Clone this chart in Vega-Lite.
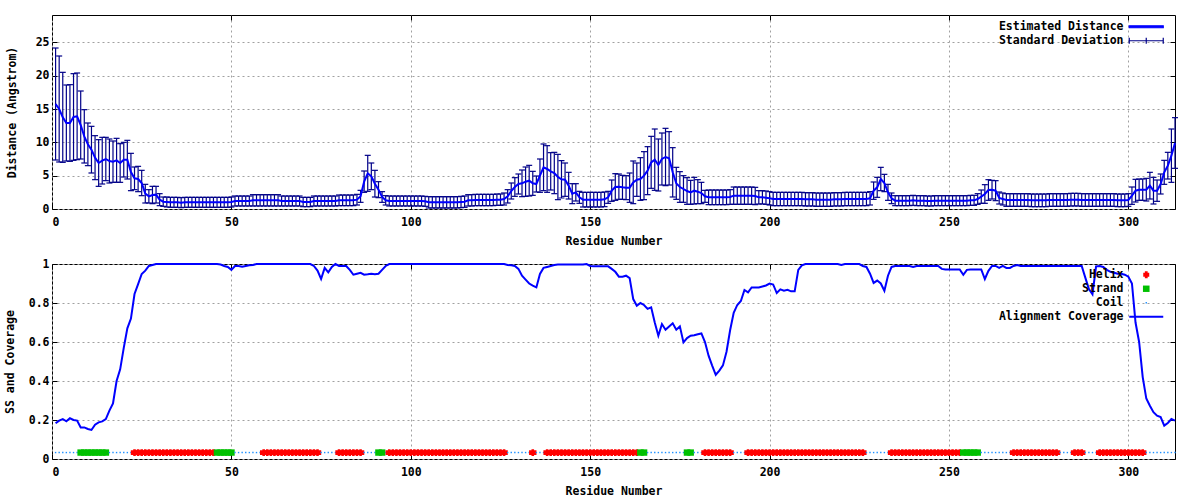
{
"$schema": "https://vega.github.io/schema/vega-lite/v6.json",
"padding": {"left": 3, "top": 14, "right": 0, "bottom": 0},
"background": "white",
"config": {
  "view": {"stroke": "#000", "strokeWidth": 1},
  "axis": {"labelFont": "DejaVu Sans Mono", "labelFontWeight": "bold", "labelFontSize": 11.5, "labelColor": "#000",
    "titleFont": "DejaVu Sans Mono", "titleFontWeight": "bold", "titleFontSize": 11.5, "titleColor": "#000",
    "tickColor": "#000", "tickSize": -5, "tickWidth": 1, "domain": false,
    "gridColor": "#a0a0a0", "gridDash": [2, 3], "gridOpacity": 1, "gridWidth": 1, "labelPadding": 8},
  "axisX": {"titlePadding": 8, "labelPadding": 12},
  "axisY": {"titlePadding": 13},
  "legend": {"labelFont": "DejaVu Sans Mono", "labelFontWeight": "bold", "labelFontSize": 11.5, "labelColor": "#000",
    "symbolSize": 4, "labelAlign": "right", "labelOffset": -28.5, "rowPadding": 1, "padding": 0}
},
"datasets": {"res": [
{"r":1,"d":15.75,"e":8.4,"c":0.183,"ss":"Coil"},
{"r":2,"d":15,"e":7.95,"c":0.197,"ss":"Coil"},
{"r":3,"d":13.75,"e":6.75,"c":0.205,"ss":"Coil"},
{"r":4,"d":12.9,"e":5.7,"c":0.193,"ss":"Coil"},
{"r":5,"d":12.9,"e":5.75,"c":0.209,"ss":"Coil"},
{"r":6,"d":13.8,"e":6.5,"c":0.2,"ss":"Coil"},
{"r":7,"d":13.9,"e":6.5,"c":0.197,"ss":"Coil"},
{"r":8,"d":12.6,"e":5.1,"c":0.162,"ss":"Strand"},
{"r":9,"d":10.9,"e":4,"c":0.162,"ss":"Strand"},
{"r":10,"d":9.7,"e":3.2,"c":0.154,"ss":"Strand"},
{"r":11,"d":8.9,"e":3.5,"c":0.149,"ss":"Strand"},
{"r":12,"d":7.7,"e":3.3,"c":0.176,"ss":"Strand"},
{"r":13,"d":6.9,"e":3.5,"c":0.188,"ss":"Strand"},
{"r":14,"d":7.25,"e":3.5,"c":0.193,"ss":"Strand"},
{"r":15,"d":7.5,"e":3.25,"c":0.205,"ss":"Strand"},
{"r":16,"d":7.2,"e":3.3,"c":0.248,"ss":"Coil"},
{"r":17,"d":7.1,"e":3.1,"c":0.285,"ss":"Coil"},
{"r":18,"d":7.3,"e":3.3,"c":0.4,"ss":"Coil"},
{"r":19,"d":6.9,"e":2.9,"c":0.46,"ss":"Coil"},
{"r":20,"d":7.4,"e":2.6,"c":0.57,"ss":"Coil"},
{"r":21,"d":7.4,"e":2.9,"c":0.67,"ss":"Coil"},
{"r":22,"d":5.55,"e":2.8,"c":0.72,"ss":"Coil"},
{"r":23,"d":4.6,"e":1.7,"c":0.846,"ss":"Helix"},
{"r":24,"d":4.5,"e":1.9,"c":0.897,"ss":"Helix"},
{"r":25,"d":3.9,"e":1.9,"c":0.949,"ss":"Helix"},
{"r":26,"d":2.3,"e":1.4,"c":0.966,"ss":"Helix"},
{"r":27,"d":1.9,"e":1,"c":0.99,"ss":"Helix"},
{"r":28,"d":2.1,"e":1.3,"c":0.995,"ss":"Helix"},
{"r":29,"d":2.15,"e":1.25,"c":1,"ss":"Helix"},
{"r":30,"d":1.4,"e":0.9,"c":1,"ss":"Helix"},
{"r":31,"d":1.1,"e":0.7,"c":1,"ss":"Helix"},
{"r":32,"d":1.05,"e":0.75,"c":1,"ss":"Helix"},
{"r":33,"d":1,"e":0.75,"c":1,"ss":"Helix"},
{"r":34,"d":1,"e":0.75,"c":1,"ss":"Helix"},
{"r":35,"d":1,"e":0.75,"c":1,"ss":"Helix"},
{"r":36,"d":0.95,"e":0.75,"c":1,"ss":"Helix"},
{"r":37,"d":1,"e":0.75,"c":1,"ss":"Helix"},
{"r":38,"d":1,"e":0.75,"c":1,"ss":"Helix"},
{"r":39,"d":1,"e":0.75,"c":1,"ss":"Helix"},
{"r":40,"d":1,"e":0.75,"c":1,"ss":"Helix"},
{"r":41,"d":1,"e":0.75,"c":1,"ss":"Helix"},
{"r":42,"d":1,"e":0.75,"c":1,"ss":"Helix"},
{"r":43,"d":1,"e":0.75,"c":1,"ss":"Helix"},
{"r":44,"d":1,"e":0.75,"c":1,"ss":"Helix"},
{"r":45,"d":1,"e":0.75,"c":1,"ss":"Helix"},
{"r":46,"d":1,"e":0.75,"c":1,"ss":"Strand"},
{"r":47,"d":1,"e":0.75,"c":0.997,"ss":"Strand"},
{"r":48,"d":1,"e":0.75,"c":0.99,"ss":"Strand"},
{"r":49,"d":1,"e":0.75,"c":0.985,"ss":"Strand"},
{"r":50,"d":1.05,"e":0.75,"c":0.97,"ss":"Strand"},
{"r":51,"d":1.2,"e":0.75,"c":0.99,"ss":"Coil"},
{"r":52,"d":1.2,"e":0.75,"c":0.99,"ss":"Coil"},
{"r":53,"d":1.2,"e":0.75,"c":0.986,"ss":"Coil"},
{"r":54,"d":1.2,"e":0.75,"c":0.99,"ss":"Coil"},
{"r":55,"d":1.2,"e":0.75,"c":0.993,"ss":"Coil"},
{"r":56,"d":1.3,"e":0.85,"c":0.995,"ss":"Coil"},
{"r":57,"d":1.3,"e":0.85,"c":1,"ss":"Coil"},
{"r":58,"d":1.3,"e":0.85,"c":1,"ss":"Coil"},
{"r":59,"d":1.3,"e":0.85,"c":1,"ss":"Helix"},
{"r":60,"d":1.3,"e":0.85,"c":1,"ss":"Helix"},
{"r":61,"d":1.3,"e":0.85,"c":1,"ss":"Helix"},
{"r":62,"d":1.3,"e":0.85,"c":1,"ss":"Helix"},
{"r":63,"d":1.3,"e":0.85,"c":1,"ss":"Helix"},
{"r":64,"d":1.2,"e":0.75,"c":1,"ss":"Helix"},
{"r":65,"d":1.2,"e":0.75,"c":1,"ss":"Helix"},
{"r":66,"d":1.2,"e":0.75,"c":1,"ss":"Helix"},
{"r":67,"d":1.2,"e":0.75,"c":1,"ss":"Helix"},
{"r":68,"d":1.2,"e":0.75,"c":1,"ss":"Helix"},
{"r":69,"d":1.2,"e":0.75,"c":1,"ss":"Helix"},
{"r":70,"d":1.05,"e":0.7,"c":1,"ss":"Helix"},
{"r":71,"d":1.05,"e":0.7,"c":1,"ss":"Helix"},
{"r":72,"d":1.05,"e":0.7,"c":1,"ss":"Helix"},
{"r":73,"d":1.2,"e":0.75,"c":0.99,"ss":"Helix"},
{"r":74,"d":1.2,"e":0.75,"c":0.966,"ss":"Helix"},
{"r":75,"d":1.2,"e":0.75,"c":0.923,"ss":"Coil"},
{"r":76,"d":1.2,"e":0.75,"c":0.98,"ss":"Coil"},
{"r":77,"d":1.2,"e":0.75,"c":0.957,"ss":"Coil"},
{"r":78,"d":1.2,"e":0.75,"c":0.985,"ss":"Coil"},
{"r":79,"d":1.2,"e":0.75,"c":1,"ss":"Coil"},
{"r":80,"d":1.3,"e":0.8,"c":0.99,"ss":"Helix"},
{"r":81,"d":1.3,"e":0.8,"c":0.99,"ss":"Helix"},
{"r":82,"d":1.3,"e":0.8,"c":0.99,"ss":"Helix"},
{"r":83,"d":1.3,"e":0.8,"c":0.97,"ss":"Helix"},
{"r":84,"d":1.3,"e":0.8,"c":0.945,"ss":"Helix"},
{"r":85,"d":1.4,"e":0.8,"c":0.95,"ss":"Helix"},
{"r":86,"d":1.9,"e":0.9,"c":0.955,"ss":"Helix"},
{"r":87,"d":4.1,"e":1.6,"c":0.945,"ss":"Coil"},
{"r":88,"d":5.35,"e":2.7,"c":0.947,"ss":"Coil"},
{"r":89,"d":4.9,"e":2,"c":0.95,"ss":"Coil"},
{"r":90,"d":3.8,"e":2,"c":0.948,"ss":"Coil"},
{"r":91,"d":2.9,"e":1.2,"c":0.95,"ss":"Strand"},
{"r":92,"d":1.8,"e":0.8,"c":0.97,"ss":"Strand"},
{"r":93,"d":1.3,"e":0.7,"c":0.99,"ss":"Coil"},
{"r":94,"d":1.2,"e":0.75,"c":1,"ss":"Helix"},
{"r":95,"d":1.2,"e":0.75,"c":1,"ss":"Helix"},
{"r":96,"d":1.2,"e":0.75,"c":1,"ss":"Helix"},
{"r":97,"d":1.2,"e":0.75,"c":1,"ss":"Helix"},
{"r":98,"d":1.2,"e":0.75,"c":1,"ss":"Helix"},
{"r":99,"d":1.2,"e":0.75,"c":1,"ss":"Helix"},
{"r":100,"d":1.2,"e":0.75,"c":1,"ss":"Helix"},
{"r":101,"d":1.2,"e":0.75,"c":1,"ss":"Helix"},
{"r":102,"d":1.2,"e":0.75,"c":1,"ss":"Helix"},
{"r":103,"d":1.2,"e":0.75,"c":1,"ss":"Helix"},
{"r":104,"d":1.15,"e":0.75,"c":1,"ss":"Helix"},
{"r":105,"d":1,"e":0.85,"c":1,"ss":"Helix"},
{"r":106,"d":1,"e":0.85,"c":1,"ss":"Helix"},
{"r":107,"d":1,"e":0.85,"c":1,"ss":"Helix"},
{"r":108,"d":1,"e":0.85,"c":1,"ss":"Helix"},
{"r":109,"d":1,"e":0.85,"c":1,"ss":"Helix"},
{"r":110,"d":1,"e":0.85,"c":1,"ss":"Helix"},
{"r":111,"d":1,"e":0.85,"c":1,"ss":"Helix"},
{"r":112,"d":1,"e":0.85,"c":1,"ss":"Helix"},
{"r":113,"d":1,"e":0.85,"c":1,"ss":"Helix"},
{"r":114,"d":1.05,"e":0.85,"c":1,"ss":"Helix"},
{"r":115,"d":1.1,"e":0.85,"c":1,"ss":"Helix"},
{"r":116,"d":1.3,"e":0.85,"c":1,"ss":"Helix"},
{"r":117,"d":1.3,"e":0.85,"c":1,"ss":"Helix"},
{"r":118,"d":1.35,"e":0.85,"c":1,"ss":"Helix"},
{"r":119,"d":1.35,"e":0.85,"c":1,"ss":"Helix"},
{"r":120,"d":1.35,"e":0.85,"c":1,"ss":"Helix"},
{"r":121,"d":1.35,"e":0.85,"c":1,"ss":"Helix"},
{"r":122,"d":1.35,"e":0.85,"c":1,"ss":"Helix"},
{"r":123,"d":1.35,"e":0.85,"c":1,"ss":"Helix"},
{"r":124,"d":1.4,"e":0.85,"c":1,"ss":"Helix"},
{"r":125,"d":1.4,"e":0.85,"c":1,"ss":"Helix"},
{"r":126,"d":1.5,"e":0.9,"c":1,"ss":"Helix"},
{"r":127,"d":1.9,"e":1,"c":0.995,"ss":"Coil"},
{"r":128,"d":2.7,"e":1.2,"c":0.993,"ss":"Coil"},
{"r":129,"d":3.3,"e":1.4,"c":0.99,"ss":"Coil"},
{"r":130,"d":3.75,"e":1.5,"c":0.975,"ss":"Coil"},
{"r":131,"d":3.85,"e":2,"c":0.94,"ss":"Coil"},
{"r":132,"d":4.1,"e":2.2,"c":0.92,"ss":"Coil"},
{"r":133,"d":4.25,"e":2.3,"c":0.9,"ss":"Coil"},
{"r":134,"d":3.85,"e":1.8,"c":0.889,"ss":"Helix"},
{"r":135,"d":3.75,"e":1.2,"c":0.88,"ss":"Coil"},
{"r":136,"d":5,"e":2.5,"c":0.949,"ss":"Coil"},
{"r":137,"d":6.25,"e":3.5,"c":0.98,"ss":"Coil"},
{"r":138,"d":6,"e":3.5,"c":0.985,"ss":"Helix"},
{"r":139,"d":5.65,"e":2.8,"c":0.99,"ss":"Helix"},
{"r":140,"d":5.4,"e":3.1,"c":0.995,"ss":"Helix"},
{"r":141,"d":4.8,"e":3.4,"c":0.997,"ss":"Helix"},
{"r":142,"d":4.45,"e":2.8,"c":0.997,"ss":"Helix"},
{"r":143,"d":4.4,"e":2.5,"c":0.997,"ss":"Helix"},
{"r":144,"d":3.5,"e":2,"c":0.997,"ss":"Helix"},
{"r":145,"d":2.3,"e":1.5,"c":0.997,"ss":"Helix"},
{"r":146,"d":2.5,"e":1.3,"c":0.997,"ss":"Helix"},
{"r":147,"d":1.75,"e":0.9,"c":0.997,"ss":"Helix"},
{"r":148,"d":1.4,"e":1.1,"c":0.997,"ss":"Helix"},
{"r":149,"d":1.4,"e":1.1,"c":1,"ss":"Helix"},
{"r":150,"d":1.4,"e":1.1,"c":0.99,"ss":"Helix"},
{"r":151,"d":1.4,"e":1.1,"c":0.988,"ss":"Helix"},
{"r":152,"d":1.4,"e":1.1,"c":0.988,"ss":"Helix"},
{"r":153,"d":1.4,"e":1.1,"c":0.988,"ss":"Helix"},
{"r":154,"d":1.45,"e":1.1,"c":0.988,"ss":"Helix"},
{"r":155,"d":1.75,"e":0.9,"c":0.988,"ss":"Helix"},
{"r":156,"d":2.75,"e":1.6,"c":0.975,"ss":"Helix"},
{"r":157,"d":3.3,"e":2,"c":0.96,"ss":"Helix"},
{"r":158,"d":3.35,"e":1.9,"c":0.935,"ss":"Helix"},
{"r":159,"d":3.25,"e":1.8,"c":0.935,"ss":"Helix"},
{"r":160,"d":3.2,"e":1.8,"c":0.94,"ss":"Helix"},
{"r":161,"d":3.2,"e":2.2,"c":0.928,"ss":"Helix"},
{"r":162,"d":4,"e":3.2,"c":0.82,"ss":"Helix"},
{"r":163,"d":4.4,"e":2.5,"c":0.786,"ss":"Helix"},
{"r":164,"d":4.5,"e":3.2,"c":0.8,"ss":"Strand"},
{"r":165,"d":5,"e":3.6,"c":0.79,"ss":"Strand"},
{"r":166,"d":5.75,"e":3.6,"c":0.77,"ss":"Coil"},
{"r":167,"d":7,"e":3.9,"c":0.778,"ss":"Coil"},
{"r":168,"d":7.4,"e":4.6,"c":0.7,"ss":"Coil"},
{"r":169,"d":6.6,"e":3.9,"c":0.632,"ss":"Coil"},
{"r":170,"d":7.5,"e":3.9,"c":0.692,"ss":"Coil"},
{"r":171,"d":7.8,"e":4.3,"c":0.663,"ss":"Coil"},
{"r":172,"d":7.6,"e":4,"c":0.68,"ss":"Coil"},
{"r":173,"d":5.5,"e":3.7,"c":0.696,"ss":"Coil"},
{"r":174,"d":3.85,"e":2.4,"c":0.663,"ss":"Coil"},
{"r":175,"d":3.3,"e":2.3,"c":0.68,"ss":"Coil"},
{"r":176,"d":3,"e":2,"c":0.598,"ss":"Coil"},
{"r":177,"d":2.7,"e":2,"c":0.62,"ss":"Strand"},
{"r":178,"d":2.5,"e":1.8,"c":0.632,"ss":"Strand"},
{"r":179,"d":2.75,"e":2,"c":0.635,"ss":"Coil"},
{"r":180,"d":2.6,"e":1.8,"c":0.64,"ss":"Coil"},
{"r":181,"d":2.4,"e":1.6,"c":0.644,"ss":"Coil"},
{"r":182,"d":1.9,"e":0.9,"c":0.6,"ss":"Helix"},
{"r":183,"d":1.75,"e":1.1,"c":0.53,"ss":"Helix"},
{"r":184,"d":1.75,"e":1.1,"c":0.479,"ss":"Helix"},
{"r":185,"d":1.75,"e":1.1,"c":0.432,"ss":"Helix"},
{"r":186,"d":1.75,"e":1.1,"c":0.453,"ss":"Helix"},
{"r":187,"d":1.75,"e":1.1,"c":0.48,"ss":"Helix"},
{"r":188,"d":1.75,"e":1.1,"c":0.55,"ss":"Helix"},
{"r":189,"d":1.8,"e":1.1,"c":0.66,"ss":"Helix"},
{"r":190,"d":2,"e":1.3,"c":0.75,"ss":"Coil"},
{"r":191,"d":2,"e":1.3,"c":0.79,"ss":"Coil"},
{"r":192,"d":2,"e":1.3,"c":0.81,"ss":"Coil"},
{"r":193,"d":2,"e":1.3,"c":0.867,"ss":"Coil"},
{"r":194,"d":2,"e":1.3,"c":0.855,"ss":"Helix"},
{"r":195,"d":2,"e":1.3,"c":0.88,"ss":"Helix"},
{"r":196,"d":1.95,"e":1.3,"c":0.88,"ss":"Helix"},
{"r":197,"d":1.75,"e":1,"c":0.88,"ss":"Helix"},
{"r":198,"d":1.75,"e":1,"c":0.885,"ss":"Helix"},
{"r":199,"d":1.7,"e":1,"c":0.89,"ss":"Helix"},
{"r":200,"d":1.6,"e":1,"c":0.9,"ss":"Helix"},
{"r":201,"d":1.5,"e":1,"c":0.895,"ss":"Helix"},
{"r":202,"d":1.5,"e":1,"c":0.851,"ss":"Helix"},
{"r":203,"d":1.5,"e":1,"c":0.87,"ss":"Helix"},
{"r":204,"d":1.5,"e":1,"c":0.863,"ss":"Helix"},
{"r":205,"d":1.5,"e":1,"c":0.868,"ss":"Helix"},
{"r":206,"d":1.5,"e":1,"c":0.86,"ss":"Helix"},
{"r":207,"d":1.5,"e":1,"c":0.86,"ss":"Helix"},
{"r":208,"d":1.5,"e":1,"c":0.97,"ss":"Helix"},
{"r":209,"d":1.5,"e":1,"c":0.993,"ss":"Helix"},
{"r":210,"d":1.45,"e":1,"c":1,"ss":"Helix"},
{"r":211,"d":1.45,"e":1,"c":1,"ss":"Helix"},
{"r":212,"d":1.45,"e":1,"c":1,"ss":"Helix"},
{"r":213,"d":1.4,"e":1,"c":1,"ss":"Helix"},
{"r":214,"d":1.4,"e":1,"c":1,"ss":"Helix"},
{"r":215,"d":1.4,"e":1,"c":1,"ss":"Helix"},
{"r":216,"d":1.4,"e":1,"c":1,"ss":"Helix"},
{"r":217,"d":1.4,"e":1,"c":1,"ss":"Helix"},
{"r":218,"d":1.45,"e":1,"c":1,"ss":"Helix"},
{"r":219,"d":1.45,"e":1,"c":1,"ss":"Helix"},
{"r":220,"d":1.45,"e":1,"c":0.995,"ss":"Helix"},
{"r":221,"d":1.5,"e":1,"c":1,"ss":"Helix"},
{"r":222,"d":1.5,"e":1,"c":1,"ss":"Helix"},
{"r":223,"d":1.5,"e":1,"c":1,"ss":"Helix"},
{"r":224,"d":1.5,"e":1,"c":1,"ss":"Helix"},
{"r":225,"d":1.5,"e":1,"c":1,"ss":"Helix"},
{"r":226,"d":1.5,"e":1,"c":0.99,"ss":"Helix"},
{"r":227,"d":1.5,"e":1,"c":0.985,"ss":"Coil"},
{"r":228,"d":1.6,"e":1,"c":0.95,"ss":"Coil"},
{"r":229,"d":2.75,"e":1.3,"c":0.903,"ss":"Coil"},
{"r":230,"d":3.25,"e":1.5,"c":0.915,"ss":"Coil"},
{"r":231,"d":4.5,"e":1.75,"c":0.9,"ss":"Coil"},
{"r":232,"d":3.9,"e":1.3,"c":0.863,"ss":"Coil"},
{"r":233,"d":2.5,"e":1.2,"c":0.94,"ss":"Coil"},
{"r":234,"d":1.6,"e":0.8,"c":0.985,"ss":"Helix"},
{"r":235,"d":1.25,"e":0.75,"c":0.99,"ss":"Helix"},
{"r":236,"d":1.25,"e":0.75,"c":0.99,"ss":"Helix"},
{"r":237,"d":1.25,"e":0.75,"c":0.99,"ss":"Helix"},
{"r":238,"d":1.25,"e":0.75,"c":0.99,"ss":"Helix"},
{"r":239,"d":1.25,"e":0.75,"c":0.99,"ss":"Helix"},
{"r":240,"d":1.3,"e":0.75,"c":0.985,"ss":"Helix"},
{"r":241,"d":1.25,"e":0.75,"c":0.99,"ss":"Helix"},
{"r":242,"d":1.25,"e":0.75,"c":0.99,"ss":"Helix"},
{"r":243,"d":1.25,"e":0.75,"c":0.99,"ss":"Helix"},
{"r":244,"d":1.2,"e":0.75,"c":0.99,"ss":"Helix"},
{"r":245,"d":1.2,"e":0.75,"c":0.99,"ss":"Helix"},
{"r":246,"d":1.25,"e":0.75,"c":0.99,"ss":"Helix"},
{"r":247,"d":1.25,"e":0.75,"c":0.99,"ss":"Helix"},
{"r":248,"d":1.25,"e":0.75,"c":0.975,"ss":"Helix"},
{"r":249,"d":1.25,"e":0.75,"c":0.972,"ss":"Helix"},
{"r":250,"d":1.25,"e":0.75,"c":0.972,"ss":"Helix"},
{"r":251,"d":1.25,"e":0.75,"c":0.972,"ss":"Helix"},
{"r":252,"d":1.25,"e":0.75,"c":0.972,"ss":"Helix"},
{"r":253,"d":1.25,"e":0.75,"c":0.972,"ss":"Helix"},
{"r":254,"d":1.25,"e":0.75,"c":0.945,"ss":"Strand"},
{"r":255,"d":1.25,"e":0.75,"c":0.97,"ss":"Strand"},
{"r":256,"d":1.3,"e":0.75,"c":0.972,"ss":"Strand"},
{"r":257,"d":1.3,"e":0.75,"c":0.972,"ss":"Strand"},
{"r":258,"d":1.5,"e":0.8,"c":0.972,"ss":"Strand"},
{"r":259,"d":1.85,"e":1,"c":0.972,"ss":"Coil"},
{"r":260,"d":2.25,"e":1.4,"c":0.923,"ss":"Coil"},
{"r":261,"d":2.85,"e":1.55,"c":0.965,"ss":"Coil"},
{"r":262,"d":2.9,"e":1.4,"c":0.99,"ss":"Coil"},
{"r":263,"d":2.75,"e":1.5,"c":0.99,"ss":"Coil"},
{"r":264,"d":1.65,"e":0.9,"c":0.98,"ss":"Coil"},
{"r":265,"d":1.5,"e":0.9,"c":0.99,"ss":"Coil"},
{"r":266,"d":1.35,"e":0.95,"c":0.98,"ss":"Coil"},
{"r":267,"d":1.35,"e":0.95,"c":0.98,"ss":"Coil"},
{"r":268,"d":1.35,"e":0.95,"c":0.99,"ss":"Helix"},
{"r":269,"d":1.35,"e":0.95,"c":0.995,"ss":"Helix"},
{"r":270,"d":1.35,"e":0.95,"c":0.99,"ss":"Helix"},
{"r":271,"d":1.35,"e":0.95,"c":0.99,"ss":"Helix"},
{"r":272,"d":1.35,"e":0.95,"c":0.99,"ss":"Helix"},
{"r":273,"d":1.3,"e":0.95,"c":0.99,"ss":"Helix"},
{"r":274,"d":1.3,"e":0.95,"c":0.99,"ss":"Helix"},
{"r":275,"d":1.3,"e":0.95,"c":0.99,"ss":"Helix"},
{"r":276,"d":1.3,"e":0.95,"c":0.99,"ss":"Helix"},
{"r":277,"d":1.3,"e":0.95,"c":0.99,"ss":"Helix"},
{"r":278,"d":1.35,"e":0.95,"c":0.99,"ss":"Helix"},
{"r":279,"d":1.35,"e":0.95,"c":0.99,"ss":"Helix"},
{"r":280,"d":1.35,"e":0.95,"c":0.99,"ss":"Helix"},
{"r":281,"d":1.35,"e":0.95,"c":0.99,"ss":"Coil"},
{"r":282,"d":1.35,"e":0.95,"c":0.99,"ss":"Coil"},
{"r":283,"d":1.35,"e":0.95,"c":0.99,"ss":"Coil"},
{"r":284,"d":1.4,"e":0.95,"c":0.99,"ss":"Coil"},
{"r":285,"d":1.4,"e":0.95,"c":0.99,"ss":"Helix"},
{"r":286,"d":1.4,"e":0.95,"c":0.99,"ss":"Helix"},
{"r":287,"d":1.35,"e":0.95,"c":0.99,"ss":"Helix"},
{"r":288,"d":1.35,"e":0.95,"c":0.93,"ss":"Coil"},
{"r":289,"d":1.35,"e":0.95,"c":0.872,"ss":"Coil"},
{"r":290,"d":1.35,"e":0.95,"c":0.845,"ss":"Coil"},
{"r":291,"d":1.35,"e":0.95,"c":0.988,"ss":"Coil"},
{"r":292,"d":1.35,"e":0.95,"c":0.99,"ss":"Helix"},
{"r":293,"d":1.35,"e":0.95,"c":0.985,"ss":"Helix"},
{"r":294,"d":1.35,"e":0.95,"c":0.97,"ss":"Helix"},
{"r":295,"d":1.35,"e":0.95,"c":0.96,"ss":"Helix"},
{"r":296,"d":1.35,"e":0.95,"c":0.955,"ss":"Helix"},
{"r":297,"d":1.3,"e":0.95,"c":0.95,"ss":"Helix"},
{"r":298,"d":1.3,"e":0.95,"c":0.95,"ss":"Helix"},
{"r":299,"d":1.3,"e":0.95,"c":0.945,"ss":"Helix"},
{"r":300,"d":1.35,"e":0.95,"c":0.935,"ss":"Helix"},
{"r":301,"d":2,"e":1.3,"c":0.9,"ss":"Helix"},
{"r":302,"d":2.75,"e":1.7,"c":0.7,"ss":"Helix"},
{"r":303,"d":2.9,"e":1.6,"c":0.6,"ss":"Helix"},
{"r":304,"d":2.9,"e":1.6,"c":0.42,"ss":"Helix"},
{"r":305,"d":2.9,"e":1.7,"c":0.31,"ss":"Coil"},
{"r":306,"d":3.5,"e":2,"c":0.273,"ss":"Coil"},
{"r":307,"d":2.75,"e":2,"c":0.24,"ss":"Coil"},
{"r":308,"d":2.75,"e":1.6,"c":0.222,"ss":"Coil"},
{"r":309,"d":3.75,"e":1.5,"c":0.215,"ss":"Coil"},
{"r":310,"d":5.5,"e":1.8,"c":0.171,"ss":"Coil"},
{"r":311,"d":6.5,"e":2,"c":0.185,"ss":"Coil"},
{"r":312,"d":8,"e":4,"c":0.205,"ss":"Coil"},
{"r":313,"d":9.9,"e":3.8,"c":0.197,"ss":"Coil"}
]},
"concat": [
  {
    "width": 1123, "height": 194,
    "data": {"name": "res"},
    "resolve": {"axis": {"x": "independent", "y": "independent"}},
    "layer": [
      {
        "mark": {"type": "errorbar", "ticks": true, "size": 6, "thickness": 1.2, "opacity": 1},
        "encoding": {
          "x": {"field": "r", "type": "quantitative", "scale": {"domain": [0, 313], "nice": false, "zero": false},
            "axis": {"orient": "top", "labels": false, "grid": false, "title": null, "values": [0, 50, 100, 150, 200, 250, 300]}},
          "y": {"field": "d", "type": "quantitative", "scale": {"domain": [0, 29.1], "nice": false},
            "axis": {"orient": "right", "labels": false, "grid": false, "title": null, "values": [0, 5, 10, 15, 20, 25]}},
          "yError": {"field": "e"},
          "color": {"datum": "Standard Deviation"}
        }
      },
      {
        "mark": {"type": "line", "strokeWidth": 2},
        "encoding": {
          "x": {"field": "r", "type": "quantitative",
            "axis": {"orient": "bottom", "title": "Residue Number", "grid": true, "values": [0, 50, 100, 150, 200, 250, 300]}},
          "y": {"field": "d", "type": "quantitative",
            "axis": {"orient": "left", "title": "Distance (Angstrom)", "titlePadding": 18, "grid": true, "values": [0, 5, 10, 15, 20, 25]}},
          "color": {"datum": "Estimated Distance", "type": "nominal",
            "scale": {"domain": ["Estimated Distance", "Standard Deviation"], "range": ["#0000ff", "#000088"]},
            "legend": {"title": null, "orient": "none", "legendX": 1088.5, "legendY": 6,
              "encode": {"symbols": {"update": {
                "shape": {"signal": "datum.value === 'Standard Deviation' ? 'M-17,0H17M-17,-3V3M17,-3V3M0,-3V3' : 'M-17,-1H17V1H-17Z'"},
                "fill": {"signal": "datum.value === 'Standard Deviation' ? 'transparent' : '#0000ff'"},
                "stroke": {"signal": "datum.value === 'Standard Deviation' ? '#000088' : 'transparent'"},
                "strokeWidth": {"value": 1.2},
                "opacity": {"value": 1}
              }}}}}
        }
      }
    ]
  },
  {
    "width": 1123, "height": 195,
    "data": {"name": "res"},
    "resolve": {"axis": {"x": "independent", "y": "independent"}},
    "layer": [
      {
        "mark": {"type": "point", "filled": true, "size": 4, "opacity": 1, "strokeWidth": 0},
        "encoding": {
          "x": {"field": "r", "type": "quantitative", "scale": {"domain": [0, 313], "nice": false, "zero": false},
            "axis": {"orient": "top", "labels": false, "grid": false, "title": null, "values": [0, 50, 100, 150, 200, 250, 300]}},
          "y": {"datum": 0.033, "type": "quantitative", "scale": {"domain": [0, 1], "nice": false},
            "axis": {"orient": "right", "labels": false, "grid": false, "title": null, "values": [0, 0.2, 0.4, 0.6, 0.8, 1]}},
          "shape": {"field": "ss", "type": "nominal", "legend": null,
            "scale": {"domain": ["Helix", "Strand", "Coil"], "range": ["M-3.7,-2.4H3.7V2.4H-3.7ZM-1.3,-3.4H1.3V3.4H-1.3Z", "M-3.3,-3.2H3.3V3.2H-3.3Z", "M-0.7,-0.7H0.7V0.7H-0.7Z"]}},
          "color": {"field": "ss", "type": "nominal",
            "scale": {"domain": ["Helix", "Strand", "Coil", "Alignment Coverage"], "range": ["#ff0000", "#00c000", "#1e90ff", "#0000ff"]},
            "legend": {"title": null, "orient": "none", "legendX": 1088.5, "legendY": 5,
              "encode": {"symbols": {"update": {
                "shape": {"signal": "datum.value === 'Alignment Coverage' ? 'M-17,-1H17V1H-17Z' : datum.value === 'Helix' ? 'M-3,-2H3V2H-3ZM-1.4,-3.4H1.4V3.4H-1.4Z' : datum.value === 'Strand' ? 'M-3.3,-3.2H3.3V3.2H-3.3Z' : 'M-0.7,-0.7H0.7V0.7H-0.7Z'"},
                "fill": {"signal": "datum.value === 'Helix' ? '#ff0000' : datum.value === 'Strand' ? '#00c000' : datum.value === 'Coil' ? '#1e90ff' : '#0000ff'"},
                "stroke": {"value": "transparent"},
                "strokeWidth": {"value": 0},
                "opacity": {"value": 1}
              }}}}}
        }
      },
      {
        "mark": {"type": "line", "strokeWidth": 2},
        "encoding": {
          "x": {"field": "r", "type": "quantitative",
            "axis": {"orient": "bottom", "title": "Residue Number", "grid": true, "values": [0, 50, 100, 150, 200, 250, 300]}},
          "y": {"field": "c", "type": "quantitative",
            "axis": {"orient": "left", "title": "SS and Coverage", "grid": true, "format": ".1~f", "values": [0, 0.2, 0.4, 0.6, 0.8, 1]}},
          "color": {"datum": "Alignment Coverage", "type": "nominal",
            "legend": {"title": null, "orient": "none", "legendX": 1088.5, "legendY": 5,
              "encode": {"symbols": {"update": {
                "shape": {"signal": "datum.value === 'Alignment Coverage' ? 'M-17,-1H17V1H-17Z' : datum.value === 'Helix' ? 'M-3,-2H3V2H-3ZM-1.4,-3.4H1.4V3.4H-1.4Z' : datum.value === 'Strand' ? 'M-3.3,-3.2H3.3V3.2H-3.3Z' : 'M-0.7,-0.7H0.7V0.7H-0.7Z'"},
                "fill": {"signal": "datum.value === 'Helix' ? '#ff0000' : datum.value === 'Strand' ? '#00c000' : datum.value === 'Coil' ? '#1e90ff' : '#0000ff'"},
                "stroke": {"value": "transparent"},
                "strokeWidth": {"value": 0},
                "opacity": {"value": 1}
              }}}}}
        }
      }
    ]
  }
],
"columns": 1,
"align": "none",
"spacing": 9,
"resolve": {"scale": {"color": "independent"}, "legend": {"color": "independent"}}
}
